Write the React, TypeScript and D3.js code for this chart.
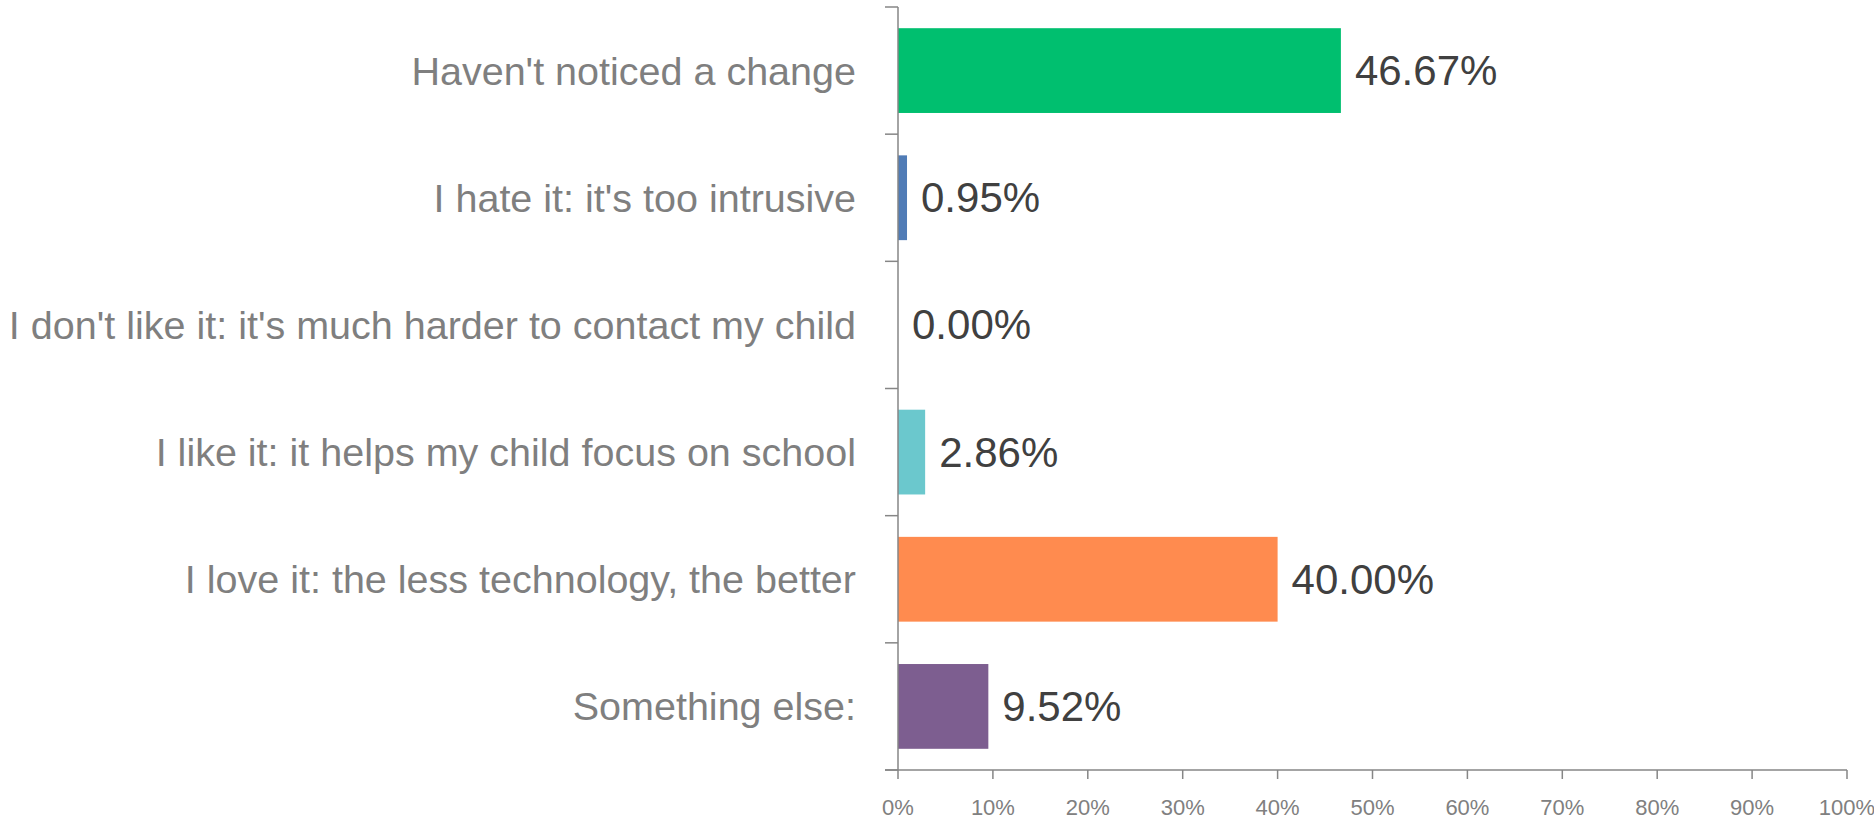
import React from "react";
import * as d3 from "d3";

const categories = [
  "Haven't noticed a change",
  "I hate it: it's too intrusive",
  "I don't like it: it's much harder to contact my child",
  "I like it: it helps my child focus on school",
  "I love it: the less technology, the better",
  "Something else:",
];
const values = [46.67, 0.95, 0.0, 2.86, 40.0, 9.52];
const colors = ["#00BF6F", "#507CB6", "#00BF6F", "#6BC8CD", "#FF8B4F", "#7D5E90"];
const xTicks = [0, 10, 20, 30, 40, 50, 60, 70, 80, 90, 100];

const W = 1874;
const H = 822;
const left = 898;
const right = 1847;
const top = 7;
const bottom = 770;

export default function App() {
  const x = d3.scaleLinear().domain([0, 100]).range([left, right]);
  const y = d3
    .scaleBand<string>()
    .domain(categories)
    .range([top, bottom])
    .paddingInner(1 / 3)
    .paddingOuter(1 / 6);
  const step = y.step();
  const axisColor = "#868686";
  return (
    <svg
      width={W}
      height={H}
      style={{ position: "absolute", left: 0, top: 0, background: "#fff" }}
    >
      {/* bars */}
      {categories.map((c, i) => (
        <rect
          key={c}
          x={x(0)}
          y={y(c)!}
          width={Math.max(0, x(values[i]) - x(0))}
          height={y.bandwidth()}
          fill={colors[i]}
        />
      ))}
      {/* y axis */}
      <line x1={left} x2={left} y1={top} y2={bottom} stroke={axisColor} strokeWidth={1.5} />
      {d3.range(categories.length + 1).map((k) => (
        <line
          key={"yt" + k}
          x1={left - 13}
          x2={left}
          y1={top + k * step}
          y2={top + k * step}
          stroke={axisColor}
          strokeWidth={1.5}
        />
      ))}
      {/* x axis */}
      <line x1={left - 13} x2={right} y1={bottom} y2={bottom} stroke={axisColor} strokeWidth={1.5} />
      {xTicks.map((t) => (
        <g key={"xt" + t}>
          <line x1={x(t)} x2={x(t)} y1={bottom} y2={bottom + 9} stroke={axisColor} strokeWidth={1.5} />
          <text
            x={x(t)}
            y={807}
            textAnchor="middle"
            dominantBaseline="central"
            fontFamily="Liberation Sans Narrow, Liberation Sans, Arial"
            fontSize={22}
            fill="#808080"
          >
            {t + "%"}
          </text>
        </g>
      ))}
      {/* category labels */}
      {categories.map((c) => (
        <text
          key={"cl" + c}
          x={856}
          y={y(c)! + y.bandwidth() / 2}
          textAnchor="end"
          dominantBaseline="central"
          fontFamily="Liberation Sans Narrow, Liberation Sans, Arial"
          fontSize={39.5}
          fill="#7f7f7f"
        >
          {c}
        </text>
      ))}
      {/* value labels */}
      {categories.map((c, i) => (
        <text
          key={"vl" + c}
          x={x(values[i]) + 14}
          y={y(c)! + y.bandwidth() / 2}
          dominantBaseline="central"
          fontFamily="Liberation Sans, Arial"
          fontSize={42}
          fill="#404040"
        >
          {values[i].toFixed(2) + "%"}
        </text>
      ))}
    </svg>
  );
}
